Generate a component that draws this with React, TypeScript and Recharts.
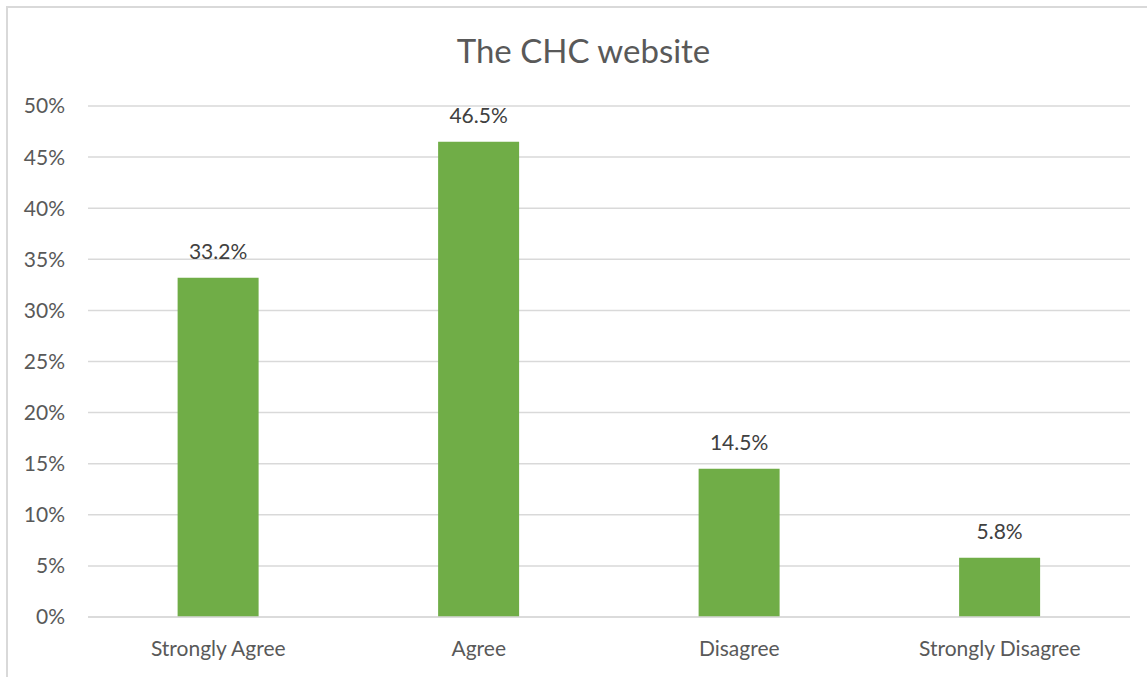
import React from 'react';
import { BarChart, Bar, XAxis, YAxis, CartesianGrid, LabelList } from 'recharts';

const categories = ['Strongly Agree', 'Agree', 'Disagree', 'Strongly Disagree'];
const shares = [33.2, 46.5, 14.5, 5.8];
const yTicks = [0, 5, 10, 15, 20, 25, 30, 35, 40, 45, 50];

const data = categories.map((name, i) => ({ name, value: shares[i] }));

const FONT = 'Lato, "Liberation Sans", sans-serif';
const TEXT = '#595959';

const App: React.FC = () => {
  return (
    <div style={{ position: 'absolute', left: 0, top: 0, width: 1147, height: 677, background: '#fff', fontFamily: FONT }}>
      <div
        style={{
          position: 'absolute',
          left: 6,
          top: 6,
          width: 1160,
          height: 700,
          border: '2px solid #d9d9d9',
          boxSizing: 'border-box',
        }}
      />
      <div
        style={{
          position: 'absolute',
          left: 7,
          width: 1153,
          top: 30,
          textAlign: 'center',
          fontSize: 33,
          color: TEXT,
          lineHeight: '40px',
        }}
      >
        The CHC website
      </div>
      <div style={{ position: 'absolute', left: 0, top: 0 }}>
        <BarChart
          width={1147}
          height={677}
          data={data}
          margin={{ top: 106, right: 17, left: 8, bottom: 0 }}
          barCategoryGap="34.4%"
        >
          <CartesianGrid vertical={false} stroke="#d9d9d9" strokeWidth={1.5} />
          <XAxis
            dataKey="name"
            height={60}
            axisLine={{ stroke: '#d9d9d9', strokeWidth: 1.5 }}
            tickLine={false}
            tick={{ fill: TEXT, fontSize: 21, fontFamily: FONT, dy: 16 }}
            interval={0}
          />
          <YAxis
            width={80}
            domain={[0, 50]}
            ticks={yTicks}
            tickFormatter={(v: number) => `${v}%`}
            axisLine={false}
            tickLine={false}
            tickSize={0}
            tickMargin={23}
            tick={{ fill: TEXT, fontSize: 21, fontFamily: FONT }}
          />
          <Bar dataKey="value" fill="#70AD47" isAnimationActive={false}>
            <LabelList
              dataKey="value"
              position="top"
              offset={19}
              formatter={(v: number) => `${v}%`}
              style={{ fill: '#404040', fontSize: 21, fontFamily: FONT }}
            />
          </Bar>
        </BarChart>
      </div>
    </div>
  );
};

export default App;
